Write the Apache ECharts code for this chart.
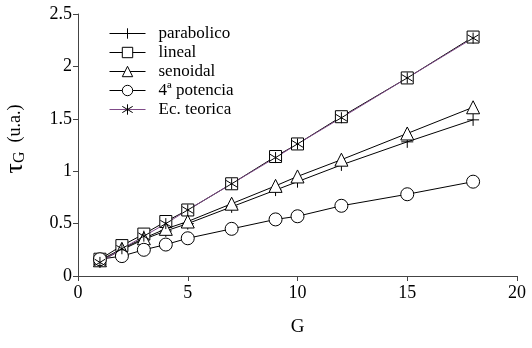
<!DOCTYPE html>
<html lang="es">
<head>
    <meta charset="UTF-8">
    <title>tau_G frente a G</title>
    <style>
        body { margin: 0; background: #fff; }
    </style>
</head>
<body>
<div id="demo" style="width: 532px;height: 348px;"></div>
<script src="https://cdn.jsdelivr.net/npm/echarts@6/dist/echarts.min.js"></script>
<script>
    /*valores de G*/
    var G = [1, 2, 3, 4, 5, 7, 9, 10, 12, 15, 18];
    /*tau_G (u.a.) por modelo*/
    var parabolico = [0.14, 0.25, 0.35, 0.43, 0.50, 0.66, 0.82, 0.90, 1.06, 1.28, 1.49];
    var lineal = [0.16, 0.29, 0.40, 0.52, 0.63, 0.88, 1.14, 1.26, 1.52, 1.89, 2.28];
    var senoidal = [0.15, 0.26, 0.36, 0.45, 0.52, 0.69, 0.86, 0.95, 1.11, 1.36, 1.61];
    var potencia = [0.16, 0.19, 0.25, 0.30, 0.36, 0.45, 0.54, 0.57, 0.67, 0.78, 0.90];
    var teorica = [0.13, 0.26, 0.38, 0.50, 0.63, 0.88, 1.13, 1.26, 1.51, 1.89, 2.27];
    /*ticks*/
    var xTicks = [0, 20, 5];
    var yTicks = [0, 2.5, 0.5];

    var font = 'Times New Roman, serif';
    var plus = 'path://M5,0L5,10M0,5L10,5';
    var star = 'path://M5,0L5,10M0.8,2L9.2,8M9.2,2L0.8,8';

    function pairs(ys) {
        return G.map(function (g, i) { return [g, ys[i]]; });
    }

    function serie(name, data, symbol, size, lineColor) {
        return {
            name: name,
            type: 'line',
            data: pairs(data),
            symbol: symbol,
            symbolSize: size,
            showAllSymbol: true,
            lineStyle: { color: lineColor || '#000', width: 1 },
            itemStyle: { color: '#fff', borderColor: '#000', borderWidth: 1 },
            emphasis: { disabled: true },
            animation: false
        };
    }

    var chart = echarts.init(document.getElementById('demo'));
    var option = {
        textStyle: { fontFamily: font },
        grid: { left: 78, right: 15, top: 14, bottom: 72, outerBoundsMode: 'none', containLabel: false },
        legend: {
            orient: 'vertical',
            left: 104,
            top: 20,
            itemWidth: 36,
            itemHeight: 13,
            itemGap: 2,
            lineStyle: { width: 1 },
            itemStyle: { borderWidth: 1 },
            textStyle: { fontFamily: font, fontSize: 17, color: '#000', padding: [0, 0, 0, 8] },
            data: ['parabolico', 'lineal', 'senoidal', '4ª potencia', 'Ec. teorica']
        },
        xAxis: {
            type: 'value',
            min: xTicks[0], max: xTicks[1], interval: xTicks[2],
            name: 'G',
            nameLocation: 'middle',
            nameGap: 42,
            nameTextStyle: { fontFamily: font, fontSize: 19, color: '#000' },
            axisLine: { lineStyle: { color: '#444', width: 1 } },
            axisTick: { length: 5, lineStyle: { color: '#444' } },
            axisLabel: { fontFamily: font, fontSize: 18, color: '#000', margin: 8 },
            splitLine: { show: false }
        },
        yAxis: {
            type: 'value',
            min: yTicks[0], max: yTicks[1], interval: yTicks[2],
            name: '{t|τ}{s|G}   {u|(u.a.)}',
            nameLocation: 'middle',
            nameGap: 50,
            nameTextStyle: {
                color: '#000',
                padding: [0, 0, 0, 12],
                rich: {
                    t: { fontFamily: font, fontSize: 26, color: '#000' },
                    s: { fontFamily: font, fontSize: 16, color: '#000', padding: [10, 0, 0, 0] },
                    u: { fontFamily: font, fontSize: 18, color: '#000' }
                }
            },
            axisLine: { show: true, lineStyle: { color: '#444', width: 1 } },
            axisTick: { show: true, length: 5, lineStyle: { color: '#444' } },
            axisLabel: { fontFamily: font, fontSize: 18, color: '#000', margin: 6 },
            splitLine: { show: false }
        },
        series: [
            serie('parabolico', parabolico, plus, 12),
            serie('lineal', lineal, 'rect', 12),
            serie('senoidal', senoidal, 'triangle', 13),
            serie('4ª potencia', potencia, 'circle', 13),
            serie('Ec. teorica', teorica, star, 11, '#7f4a88')
        ]
    };
    chart.setOption(option);
</script>
</body>
</html>
